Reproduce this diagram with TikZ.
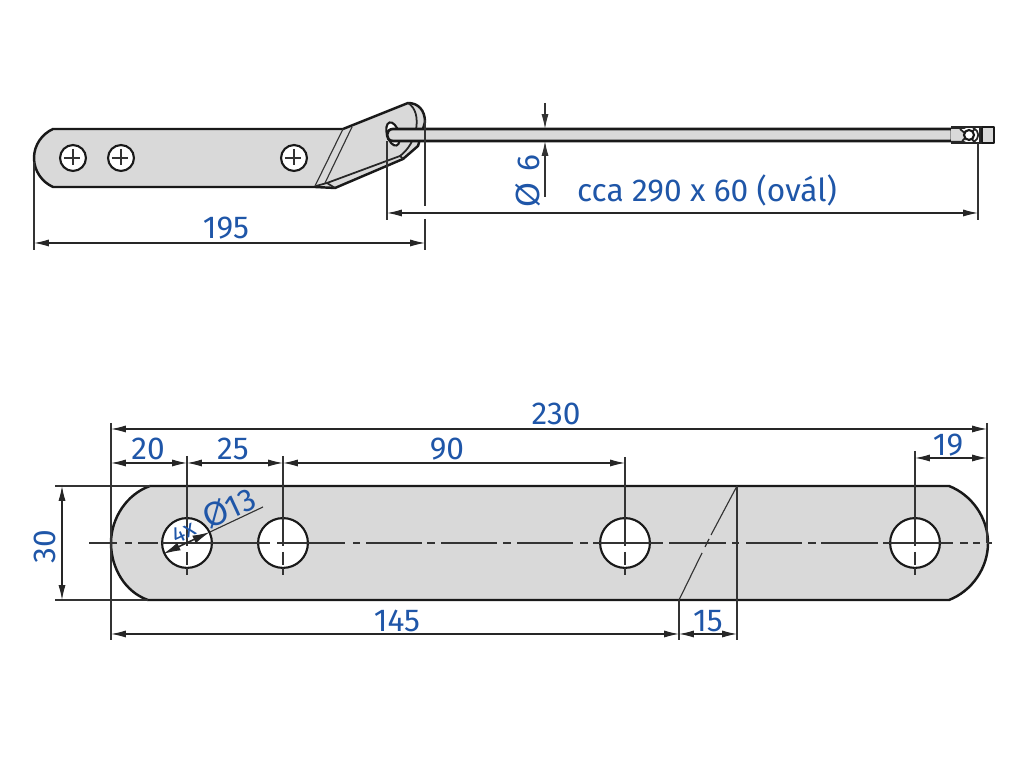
\documentclass[tikz,border=0pt]{standalone}
\usepackage{fontspec}
\usepackage{xcolor}
\usepackage{tikz}
\usetikzlibrary{arrows.meta}
\setmainfont{Fira Sans}
\newfontfamily\diafont{DejaVu Sans}
\definecolor{dimblue}{HTML}{1F56A8}
\definecolor{platefill}{HTML}{D9D9D9}
\tikzset{outline/.style={draw=black!90,line width=.7pt,fill=platefill,line join=round},
holeline/.style={draw=black!90,line width=.6pt,fill=white},
edgeline/.style={draw=black!85,line width=.5pt},
thin line/.style={draw=black!80,line width=.32pt},
dimline/.style={draw=black!85,line width=.32pt,{Latex[length=4.2pt,width=2pt]}-{Latex[length=4.2pt,width=2pt]}},
dimtext/.style={text=dimblue,font=\fontsize{9}{10}\selectfont,inner sep=0pt}}

\begin{document}
\begin{tikzpicture}[x=.01cm,y=-.01cm]
\useasboundingbox (0,0) rectangle (1024,768);
% side view
\draw[outline] (53,129) -- (343,129) -- (408,103) .. controls (418,103) and (425,110) .. (425,122) -- (418,146) -- (403,159) -- (335,188) -- (315,187) -- (53,187) .. controls (42,182) and (34,171) .. (34,158) .. controls (34,145) and (42,134) .. (53,129) -- cycle;
\draw[thin line] (343,129) -- (315,186);
\draw[thin line] (352,127) -- (325,183);
\draw[edgeline] (316,186) -- (327,183) -- (400,156) -- (403,159);
\draw[edgeline] (327,183) -- (335,188);
\draw[edgeline] (408,103) .. controls (416,108) and (418,118) .. (416,130) .. controls (414,140) and (408,150) .. (400,156);
\draw[holeline] (393,134) ellipse [x radius=6,y radius=12,rotate=17];
\foreach \hx/\hname in {73/a,121/b,294/c}{
\node[circle,holeline,minimum size=26*.2835pt,inner sep=0pt] (screw\hname) at (\hx,158) {};
\draw[thin line] (screw\hname.west) ++(5,0) -- ++(16,0);
\draw[thin line] (screw\hname.north) ++(0,5) -- ++(0,16);
}
\draw[outline,line width=.75pt] (393,129) -- (952,129) -- (952,141) -- (393,141) .. controls (389,141) and (387,138) .. (387,135) .. controls (387,132) and (389,129) .. (393,129) -- cycle;
% fork at the end of the rod
\fill[white] (951,127) rectangle (982,143);
\fill[platefill] (951,129) -- (960,129) -- (968,135) -- (960,141) -- (951,141) -- cycle;
\draw[outline] (982,127) rectangle (994,143);
\draw[black!85,line width=.8pt] (951,127) -- (982,127) (951,143) -- (982,143);
\fill[black!85] (951,126.5) -- (961,126.5) -- (966,129) -- (951,129) -- cycle;
\fill[black!85] (951,143.5) -- (961,143.5) -- (966,141) -- (951,141) -- cycle;
\draw[edgeline] (960,129) -- (975,142) (962,141) -- (975,129) (980,127) -- (980,143);
\draw[holeline] (969,135) circle [radius=5];
\draw[edgeline] (973,128) .. controls (980,131) and (980,139) .. (973,142);
% dimensions side view
\coordinate (leftend) at (34,162);
\coordinate (rightend) at (425,120);
\draw[thin line] (leftend) -- (34,250);
\draw[thin line] (rightend) -- (425,206) (425,219) -- (425,250);
\draw[dimline] (34,243) -- (425,243);
\node[dimtext] (widthlabel) at (226,228) {195};
\draw[thin line] (387,141) -- (387,220);
\draw[thin line] (978,143) -- (978,220);
\draw[dimline] (387,213) -- (978,213);
\node[dimtext] (ovallabel) at (707,190) {cca 290 x 60 (ovál)};
\draw[thin line,-{Latex[length=4.2pt,width=2pt]}] (545,103) -- (545,129);
\draw[thin line,-{Latex[length=4.2pt,width=2pt]}] (545,197) -- (545,141);
\node[dimtext,rotate=90] (rodlabel) at (528,181) {{\diafont Ø}\,\,6};
% front view
\draw[outline] (150,486) -- (949,486) .. controls (972,495) and (988,518) .. (988,543) .. controls (988,568) and (972,591) .. (949,600) -- (148,600) .. controls (125,592) and (111,568) .. (111,543) .. controls (111,518) and (127,494) .. (150,486) -- cycle;
\foreach \hx/\hname in {187/d,283/e,625/f,915/g}{
\node[circle,holeline,minimum size=50*.2835pt,inner sep=0pt] (hole\hname) at (\hx,543) {};
\draw[thin line] (\hx,543) -- (\hx,546) (\hx,552) -- (\hx,565) (\hx,568) -- (\hx,575);
}
% centre line, piece by piece
\foreach \xa/\xb in {89/117,125/132,138/158,162/270,277/345,353/360,366/422,427/435,441/497,503/511,517/573,580/588,593/663,669/726,732/739,746/802,808/816,821/878,883/953,960/968,973/980,987/992}{
\draw[thin line] (\xa,543) -- (\xb,543);
}
\draw[thin line] (737,486) -- (711,535) (709,539) -- (705,547) (702,553) -- (679,600);
% dimensions front view
\draw[thin line] (111,423) -- (111,640);
\draw[thin line] (987,423) -- (987,543);
\draw[thin line] (187,456) -- (187,543);
\draw[thin line] (283,456) -- (283,543);
\draw[thin line] (625,457) -- (625,543);
\draw[thin line] (915,451) -- (915,543);
\draw[dimline] (111,429) -- (987,429);
\node[dimtext] (totallabel) at (556,414) {230};
\draw[dimline] (111,463) -- (187,463);
\node[dimtext] (firstlabel) at (148,449) {20};
\draw[dimline] (187,463) -- (283,463);
\node[dimtext] (secondlabel) at (233,449) {25};
\draw[dimline] (283,463) -- (625,463);
\node[dimtext] (thirdlabel) at (447,449) {90};
\draw[dimline] (915,458) -- (987,458);
\node[dimtext] (endlabel) at (948,445) {19};
\draw[thin line] (55,486) -- (150,486) (55,600) -- (148,600);
\draw[dimline] (62,486) -- (62,600);
\node[dimtext,rotate=90] (heightlabel) at (45,547) {30};
\draw[thin line] (679,600) -- (679,640);
\draw[thin line] (737,486) -- (737,640);
\draw[dimline] (111,634) -- (679,634);
\node[dimtext] (lengthlabel) at (397,621) {145};
\draw[dimline] (679,634) -- (737,634);
\node[dimtext] (slantlabel) at (708,621) {15};
\draw[thin line] (210,532) -- (263,507);
\draw[draw=black!85,line width=.45pt,{Latex[length=5pt,width=2.4pt]}-{Latex[length=5pt,width=2.4pt]}] (163,554) -- (210,532);
\node[dimtext,rotate=25] (holelabel) at (229,508) {{\diafont Ø}13};
\node[dimtext,rotate=25,font=\fontsize{6.6}{8}\selectfont] (countlabel) at (184,532) {4x};
\end{tikzpicture}
\end{document}
